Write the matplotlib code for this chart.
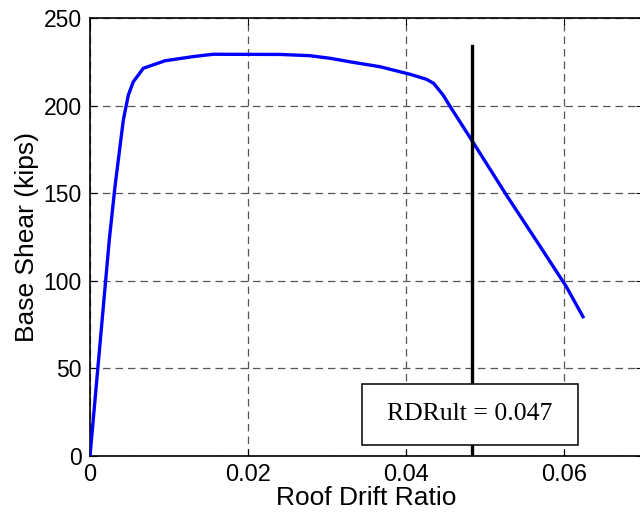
import matplotlib
matplotlib.use("Agg")
import matplotlib.pyplot as plt
from matplotlib.patches import Rectangle

drift = [0.0, 0.00244, 0.00316, 0.00422, 0.00485, 0.00548, 0.00675, 0.0095, 0.0131,
         0.0156, 0.0241, 0.0278, 0.0304, 0.0329, 0.0367, 0.0405, 0.0426, 0.0435,
         0.0447, 0.0456, 0.0483, 0.0527, 0.0570, 0.0603, 0.0624]
shear = [0.0, 123.3, 153.7, 191.8, 206.0, 213.6, 221.3, 225.6, 228.0,
         229.3, 229.2, 228.5, 227.0, 225.0, 222.2, 217.9, 215.0, 212.7,
         206.0, 199.4, 180.4, 149.0, 119.5, 96.6, 79.5]
rdr_ult = 0.0483
rdr_line_top = 234
label_text = "RDRult = 0.047"
xticks = [0, 0.02, 0.04, 0.06]
xtick_labels = ["0", "0.02", "0.04", "0.06"]
yticks = [0, 50, 100, 150, 200, 250]

plt.rcParams['font.family'] = ['Liberation Sans', 'DejaVu Sans']
fig = plt.figure(figsize=(6.4, 5.19), dpi=100)
W, H = 640, 519
left, right, top, bottom = 90, 643, 18, 456
ax = fig.add_axes([left / W, 1 - bottom / H, (right - left) / W, (bottom - top) / H])

ax.plot(drift, shear, color='#0000ff', lw=2.4, zorder=3)
ax.plot([rdr_ult, rdr_ult], [0, rdr_line_top], color='black', lw=2.4, zorder=4)

ax.set_xlim(0, 0.07)
ax.set_ylim(0, 250)
ax.set_xticks(xticks)
ax.set_xticklabels(xtick_labels)
ax.set_yticks(yticks)
ax.tick_params(direction='in', length=5, width=0.8, labelsize=16.5, top=True, right=True, pad=6)
ax.tick_params(axis='x', labelsize=17, pad=6)
ax.grid(True, color='#555555', linestyle=(0, (6, 4)), linewidth=0.9)
for s in ax.spines.values():
    s.set_linewidth(1.2)

ax.set_xlabel("Roof Drift Ratio", fontsize=19, labelpad=0)
ax.set_ylabel("Base Shear (kips)", fontsize=19, labelpad=3)

# annotation box
ax.add_patch(Rectangle((0.0344, 6.3), 0.0618 - 0.0344, 41.1 - 6.3, facecolor='white',
                       edgecolor='black', linewidth=1.1, zorder=6))
ax.text(0.0481, 24.0, label_text, fontsize=18.5, family=['Liberation Serif', 'DejaVu Serif'],
        ha='center', va='center', zorder=7)

fig.savefig("out.png", dpi=100)
